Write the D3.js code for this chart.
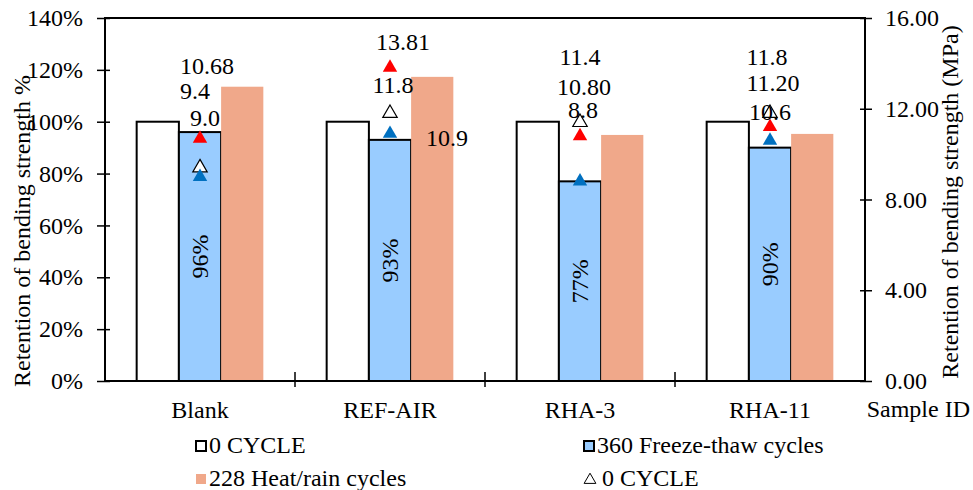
<!DOCTYPE html>
<html>
<head>
<meta charset="utf-8">
<script src="https://cdn.jsdelivr.net/npm/d3@7"></script>
</head>
<body style="margin:0">
<svg width="973" height="490">
  <style>text { font-family: 'Liberation Serif', 'Times New Roman', serif; font-size: 24px; fill: #000; }</style>
</svg>
<script>
// categories and series
const samples = ["Blank", "REF-AIR", "RHA-3", "RHA-11"];
const barSeries = ["0 CYCLE", "360 Freeze-thaw cycles", "228 Heat/rain cycles"];

// retention of bending strength (bars, left axis)
const retention0 = [1.00, 1.00, 1.00, 1.00];
const retentionFT = [0.96, 0.93, 0.77, 0.90];
const retentionHR = [1.135, 1.173, 0.949, 0.953];

// bending strength in MPa (triangles, right axis)
const mpa0 = [9.4, 11.8, 11.4, 11.8];
const mpaFT = [9.0, 10.9, 8.8, 10.6];
const mpaHR = [10.68, 13.81, 10.80, 11.20];
const mpaHRText = ["10.68", "13.81", "10.80", "11.20"];

const leftTicks = [0, 0.2, 0.4, 0.6, 0.8, 1.0, 1.2, 1.4];
const rightTicks = [0, 4, 8, 12, 16];

// label nudges (px) relative to each triangle, per sample
const nudge0 = [[-5, -69], [3, -20], [0, -57], [-3, -48]];
const nudgeFT = [[5, -51], [57, 12], [3, -63], [0, -21]];
const nudgeHR = [[7, -65], [13, -18], [4, -41], [3, -36]];

const svg = d3.select("svg");
const plotLeft = 105, plotRight = 865, plotTop = 18, plotBottom = 381;

// serif text, set inline on each element as it is made
function serif(sel) {
    return sel.style("font-family", "'Liberation Serif'").style("font-size", "24px").style("fill", "#000");
}

const x = d3.scaleBand().domain(samples).range([plotLeft, plotRight]).padding(0);
const xi = d3.scaleBand().domain(barSeries).range([0, x.bandwidth()])
    .paddingInner(0).paddingOuter(0.75);
const yL = d3.scaleLinear().domain([0, 1.4]).range([plotBottom, plotTop]);
const yR = d3.scaleLinear().domain([0, 16]).range([plotBottom, plotTop]);

const colors = { "0 CYCLE": "#ffffff", "360 Freeze-thaw cycles": "#99ccff", "228 Heat/rain cycles": "#f0a88a" };
const rows = samples.map((s, i) => ({
    sample: s,
    bars: [
        { key: barSeries[0], v: retention0[i] },
        { key: barSeries[1], v: retentionFT[i] },
        { key: barSeries[2], v: retentionHR[i] }
    ]
}));

// bars
const g = svg.selectAll("g.grp").data(rows).enter().append("g")
    .attr("class", "grp")
    .attr("transform", d => `translate(${x(d.sample)},0)`);

g.selectAll("rect").data(d => d.bars).enter().append("rect")
    .attr("x", d => xi(d.key))
    .attr("y", d => yL(d.v))
    .attr("width", xi.bandwidth())
    .attr("height", d => plotBottom - yL(d.v))
    .attr("fill", d => colors[d.key])
    .attr("stroke", d => d.key === barSeries[2] ? "none" : "#000")
    .attr("stroke-width", 2);

// percent labels inside the blue bars
g.append("text")
    .attr("transform", (d, i) => {
        const cx = x.bandwidth() / 2;
        const cy = (yL(retentionFT[i]) + plotBottom) / 2;
        return `translate(${cx + 8},${cy}) rotate(-90)`;
    })
    .attr("text-anchor", "middle")
    .call(serif)
    .text((d, i) => Math.round(retentionFT[i] * 100) + "%");

// frame and axes
svg.append("rect").attr("x", plotLeft).attr("y", plotTop)
    .attr("width", plotRight - plotLeft).attr("height", plotBottom - plotTop)
    .attr("fill", "none").attr("stroke", "#000").attr("stroke-width", 2);

const axL = svg.append("g").attr("transform", `translate(${plotLeft},0)`)
    .call(d3.axisLeft(yL).tickValues(leftTicks).tickFormat(d3.format(".0%")).tickSize(0).tickPadding(22));
axL.select(".domain").remove();
axL.selectAll(".tick line").attr("x1", -8).attr("x2", 5).attr("stroke", "#000").attr("stroke-width", 1.5);
axL.attr("font-family", "Liberation Serif").attr("font-size", 24);
axL.selectAll(".tick text").call(serif);

const axR = svg.append("g").attr("transform", `translate(${plotRight},0)`)
    .call(d3.axisRight(yR).tickValues(rightTicks).tickFormat(d3.format(".2f")).tickSize(0).tickPadding(20));
axR.select(".domain").remove();
axR.selectAll(".tick line").attr("x1", -5).attr("x2", 7).attr("stroke", "#000").attr("stroke-width", 1.5);
axR.attr("font-family", "Liberation Serif").attr("font-size", 24);
axR.selectAll(".tick text").call(serif);

// category separators on x axis
svg.append("g").selectAll("line").data(samples.slice(1)).enter().append("line")
    .attr("x1", d => x(d)).attr("x2", d => x(d))
    .attr("y1", plotBottom - 9).attr("y2", plotBottom + 6)
    .attr("stroke", "#000").attr("stroke-width", 1.5);

svg.append("g").selectAll("text").data(samples).enter().append("text")
    .attr("x", d => x(d) + x.bandwidth() / 2)
    .attr("y", 418)
    .attr("text-anchor", "middle")
    .call(serif)
    .text(d => d);

svg.append("text").attr("x", 970).attr("y", 417)
    .attr("text-anchor", "end")
    .call(serif)
    .text("Sample ID");

// axis titles
svg.append("text").attr("transform", "translate(30,231) rotate(-90)")
    .attr("text-anchor", "middle")
    .call(serif)
    .text("Retention of bending strength %");
svg.append("text").attr("transform", "translate(958,202) rotate(-90)")
    .attr("text-anchor", "middle")
    .call(serif)
    .text("Retention of bending strength (MPa)");

// triangles (MPa)
const tri = d3.symbol().type(d3.symbolTriangle).size(90);
const cxOf = s => x(s) + xi(barSeries[1]) + xi.bandwidth() / 2;
const markers = [
    { vals: mpa0, fill: "#ffffff", stroke: "#000", text: mpa0.map(v => v.toFixed(1)), nudge: nudge0 },
    { vals: mpaHR, fill: "#ff0000", stroke: "none", text: mpaHRText, nudge: nudgeHR },
    { vals: mpaFT, fill: "#0070c0", stroke: "none", text: mpaFT.map(v => v.toFixed(1)), nudge: nudgeFT }
];
markers.forEach(m => {
    svg.append("g").selectAll("path").data(samples).enter().append("path")
        .attr("d", tri)
        .attr("transform", (s, i) => `translate(${cxOf(s)},${yR(m.vals[i])})`)
        .attr("fill", m.fill)
        .attr("stroke", m.stroke)
        .attr("stroke-width", 1.2);
    svg.append("g").selectAll("text").data(samples).enter().append("text")
        .attr("x", (s, i) => cxOf(s) + m.nudge[i][0])
        .attr("y", (s, i) => yR(m.vals[i]) + m.nudge[i][1])
        .attr("text-anchor", "middle")
        .call(serif)
        .text((s, i) => m.text[i]);
});

// legend
const legend = [
    { label: barSeries[0], x: 195, y: 446, kind: "box", fill: colors[barSeries[0]], stroke: "#000" },
    { label: barSeries[1], x: 583, y: 446, kind: "box", fill: colors[barSeries[1]], stroke: "#000" },
    { label: barSeries[2], x: 195, y: 479, kind: "box", fill: colors[barSeries[2]], stroke: "none" },
    { label: "0 CYCLE", x: 583, y: 479, kind: "tri" }
];
const lg = svg.append("g").selectAll("g").data(legend).enter().append("g")
    .attr("transform", d => `translate(${d.x},${d.y})`);
lg.filter(d => d.kind === "box").append("rect")
    .attr("x", 1).attr("y", -5).attr("width", 10).attr("height", 10)
    .attr("fill", d => d.fill).attr("stroke", d => d.stroke).attr("stroke-width", 2);
lg.filter(d => d.kind === "tri").append("path")
    .attr("d", d3.symbol().type(d3.symbolTriangle).size(60))
    .attr("transform", "translate(7,1)")
    .attr("fill", "#fff").attr("stroke", "#000").attr("stroke-width", 1);
lg.append("text")
    .attr("x", d => d.kind === "tri" ? 19 : 14)
    .attr("y", 7)
    .call(serif)
    .text(d => d.label);
</script>
</body>
</html>
